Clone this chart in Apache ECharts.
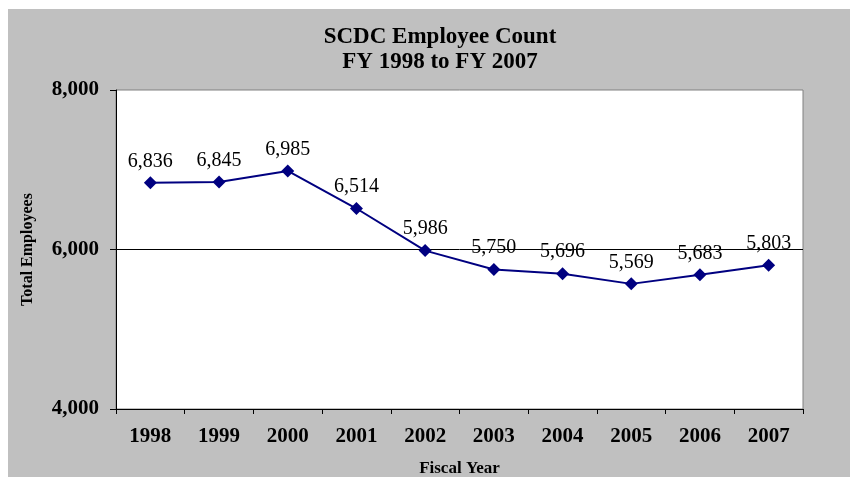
<!DOCTYPE html>
<html>
<head>
<meta charset="utf-8">
<script src="https://cdn.jsdelivr.net/npm/echarts@6/dist/echarts.min.js"></script>
<style>
body { margin: 0; background: #ffffff; }
#main { width: 850px; height: 477px; }
</style>
</head>
<body>
<div id="main"></div>
<script>
var years = ['1998', '1999', '2000', '2001', '2002', '2003', '2004', '2005', '2006', '2007'];
var employees = [6836, 6845, 6985, 6514, 5986, 5750, 5696, 5569, 5683, 5803];
var y_ticks = [4000, 6000, 8000];

var serif = '"Liberation Serif", "Times New Roman", serif';

function with_comma(v) {
	return Number(v).toLocaleString('en-US');
}

var myChart = echarts.init(document.getElementById('main'));
var option = {
	backgroundColor: '#ffffff',
	animation: false,
	graphic: [{
		type: 'rect',
		z: -10,
		shape: {x: 8, y: 9, width: 850, height: 470},
		style: {fill: '#c0c0c0'}
	}],
	title: {
		text: 'SCDC Employee Count\nFY 1998 to FY 2007',
		left: 435,
		top: 20,
		textAlign: 'center',
		textStyle: {
			fontFamily: serif,
			fontWeight: 'bold',
			fontSize: 23,
			lineHeight: 25,
			color: '#000'
		}
	},
	grid: {
		show: true,
		left: 116,
		right: 47,
		top: 90,
		bottom: 68,
		outerBoundsMode: 'none',
		containLabel: false,
		backgroundColor: '#ffffff',
		borderColor: '#808080',
		borderWidth: 1
	},
	xAxis: {
		type: 'category',
		data: years,
		boundaryGap: true,
		name: 'Fiscal Year',
		nameLocation: 'middle',
		nameGap: 51,
		nameTextStyle: {fontFamily: serif, fontWeight: 'bold', fontSize: 17, color: '#000'},
		axisLine: {lineStyle: {color: '#000', width: 1}},
		axisTick: {show: true, inside: false, length: 5, lineStyle: {color: '#000'}},
		axisLabel: {fontFamily: serif, fontWeight: 'bold', fontSize: 21, color: '#000', margin: 17}
	},
	yAxis: {
		type: 'value',
		min: y_ticks[0],
		max: y_ticks[y_ticks.length - 1],
		interval: y_ticks[1] - y_ticks[0],
		name: 'Total Employees',
		nameLocation: 'middle',
		nameGap: 80,
		nameTextStyle: {fontFamily: serif, fontWeight: 'bold', fontSize: 16, color: '#000'},
		axisLine: {show: true, lineStyle: {color: '#000', width: 1}},
		axisTick: {show: true, length: 6, lineStyle: {color: '#000'}},
		axisLabel: {fontFamily: serif, fontWeight: 'bold', fontSize: 21, color: '#000', margin: 17, formatter: with_comma},
		splitLine: {show: true, showMinLine: false, showMaxLine: false, lineStyle: {color: '#000', width: 1}}
	},
	series: [{
		type: 'line',
		data: employees,
		symbol: 'diamond',
		symbolSize: 13,
		lineStyle: {color: '#000080', width: 2},
		itemStyle: {color: '#000080'},
		label: {
			show: true,
			position: 'top',
			distance: 5,
			fontFamily: serif,
			fontSize: 20,
			color: '#000',
			formatter: function (p) { return with_comma(p.value); }
		}
	}]
};
myChart.setOption(option);
</script>
</body>
</html>
